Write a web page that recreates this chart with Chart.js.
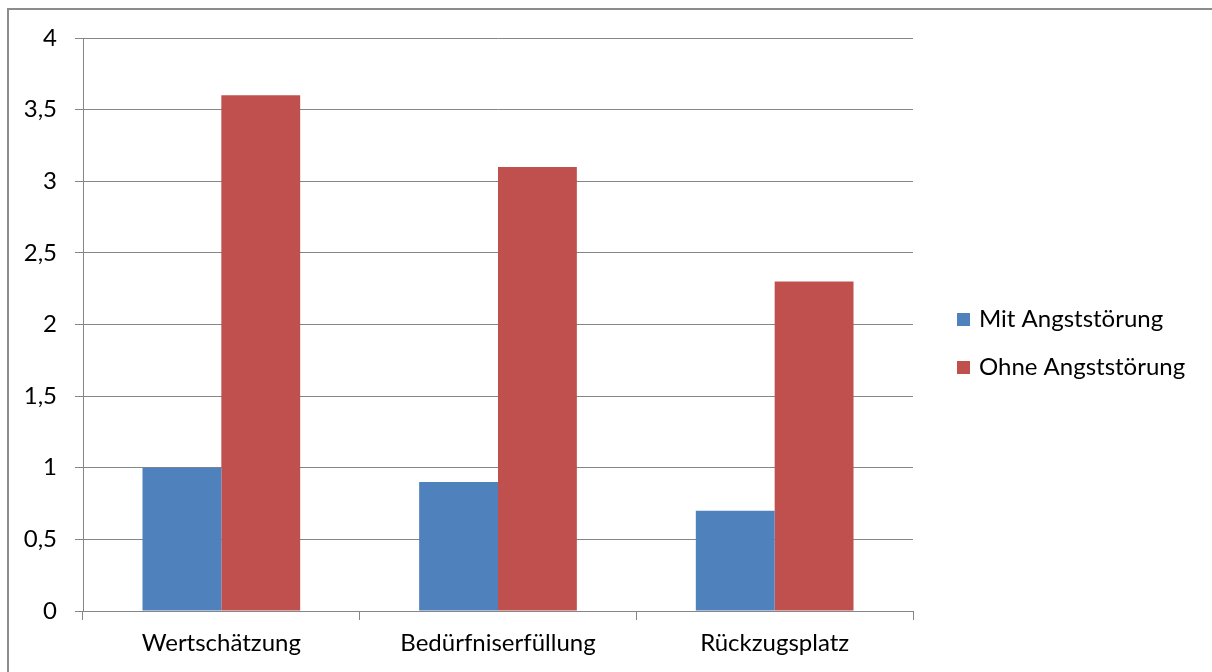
<!DOCTYPE html>
<html>
<head>
<meta charset="utf-8">
<script src="https://cdn.jsdelivr.net/npm/chart.js@4"></script>
<style>
  body { margin: 0; background: #fff; }
  #wrap { position: relative; width: 1212px; height: 672px; overflow: hidden; }
  #frame { position: absolute; left: 7px; top: 8px; right: -5px; bottom: -5px; border-style: solid; border-color: #8c8c8c; border-width: 2px 0 0 2px; pointer-events: none; }
</style>
</head>
<body>
<div id="wrap">
  <canvas id="chart" width="1212" height="672"></canvas>
  <div id="frame"></div>
</div>
<script>
const categories = ['Wertschätzung', 'Bedürfniserfüllung', 'Rückzugsplatz'];
const mitAngst = [1.0, 0.9, 0.7];
const ohneAngst = [3.6, 3.1, 2.3];

const font = { family: 'Lato, "Open Sans", sans-serif', size: 24 };

// Excel-like legend to the right of the plot
const sideLegend = {
  id: 'sideLegend',
  afterDraw(chart) {
    const ctx = chart.ctx;
    const area = chart.chartArea;
    const sets = chart.data.datasets;
    const x = area.right + 44;
    const mid = (area.top + area.bottom) / 2 + 19;
    ctx.save();
    ctx.font = font.size + 'px ' + font.family;
    ctx.textBaseline = 'middle';
    ctx.fillStyle = '#000';
    sets.forEach((ds, i) => {
      const y = mid + (i - (sets.length - 1) / 2) * 48;
      ctx.fillStyle = ds.backgroundColor;
      ctx.fillRect(x, y - 6.5, 13, 13);
      ctx.fillStyle = '#000';
      ctx.fillText(ds.label, x + 22, y);
    });
    ctx.restore();
  }
};

new Chart(document.getElementById('chart'), {
  type: 'bar',
  data: {
    labels: categories,
    datasets: [{
      label: 'Mit Angststörung',
      data: mitAngst,
      backgroundColor: '#4f81bd'
    }, {
      label: 'Ohne Angststörung',
      data: ohneAngst,
      backgroundColor: '#c0504d'
    }]
  },
  plugins: [sideLegend],
  options: {
    responsive: false,
    animation: false,
    locale: 'de-DE',
    layout: { padding: { left: 10, top: 38, right: 299, bottom: 0 } },
    datasets: {
      bar: { categoryPercentage: 0.57, barPercentage: 1.0 }
    },
    plugins: {
      tooltip: { enabled: false },
      legend: { display: false }
    },
    scales: {
      x: {
        grid: { drawOnChartArea: false, color: '#868686', tickLength: 9, offset: true },
        border: { color: '#868686' },
        ticks: { color: '#000', font: font, padding: 9 },
        afterFit: (axis) => { axis.height = 61; }
      },
      y: {
        min: 0,
        max: 4,
        ticks: {
          stepSize: 0.5,
          color: '#000',
          font: font,
          padding: 18,
          callback: (v) => v.toLocaleString('de-DE')
        },
        grid: { color: '#868686', tickLength: 8 },
        border: { color: '#868686' },
        afterFit: (axis) => { axis.width = 73; }
      }
    }
  }
});
</script>
</body>
</html>
